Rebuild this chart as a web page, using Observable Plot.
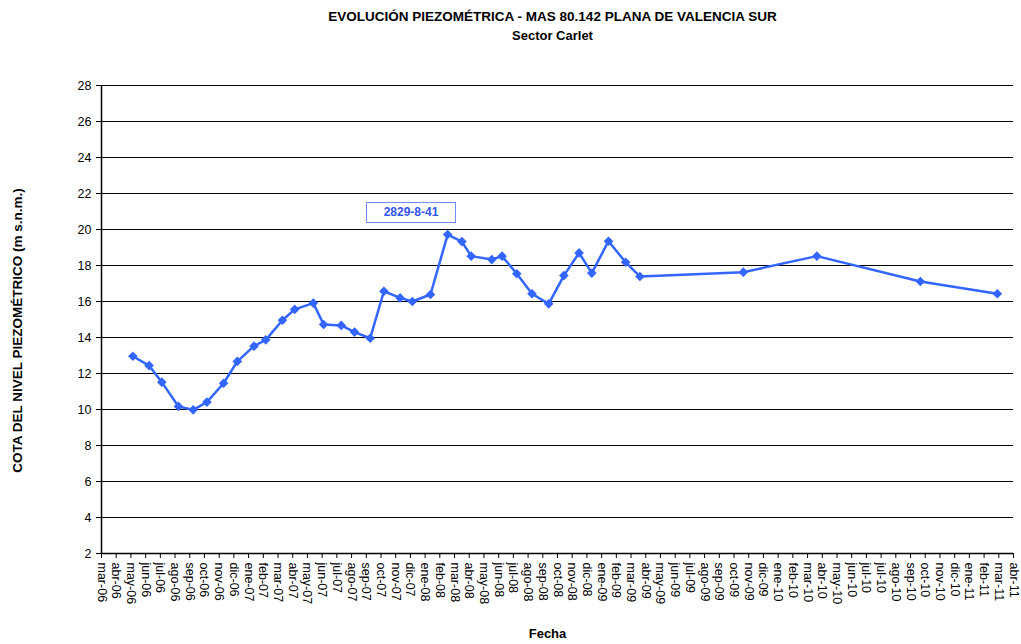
<!DOCTYPE html>
<html><head><meta charset="utf-8">
<script src="https://cdn.jsdelivr.net/npm/d3@7"></script>
<script src="https://cdn.jsdelivr.net/npm/@observablehq/plot@0.6"></script>
<style>
body{margin:0;background:#fff;font-family:Arial,"Liberation Sans",sans-serif;}
#wrap{position:relative;width:1021px;height:644px;overflow:hidden;}
.t{position:absolute;left:0;width:1105px;text-align:center;font-weight:bold;color:#000;white-space:nowrap;}
#chart{position:absolute;left:0;top:50px;}
#note{position:absolute;left:366px;top:202px;width:88px;height:19px;border:1.5px solid #6f8cff;box-sizing:content-box;
 font-weight:bold;font-size:12px;color:#3355ee;text-align:center;line-height:19px;background:#fff;}
</style>
</head><body>
<div id="wrap">
 <div class="t" style="top:9px;font-size:13.5px">EVOLUCIÓN PIEZOMÉTRICA - MAS 80.142 PLANA DE VALENCIA SUR</div>
 <div class="t" style="top:28px;font-size:13px">Sector Carlet</div>
 <div id="chart"></div>
 <div id="note">2829-8-41</div>
</div>
<script>
const measureDates = [
 "2006-05-27","2006-06-29","2006-07-25","2006-08-28","2006-09-27","2006-10-25","2006-11-28","2006-12-26",
 "2007-01-29","2007-02-22","2007-03-28","2007-04-22","2007-05-30","2007-06-20","2007-07-26","2007-08-22",
 "2007-09-23","2007-10-21","2007-11-23","2007-12-18","2008-01-24","2008-02-28","2008-03-28","2008-04-16",
 "2008-05-28","2008-06-18","2008-07-18","2008-08-18","2008-09-21","2008-10-22","2008-11-22","2008-12-18",
 "2009-01-21","2009-02-25","2009-03-26","2009-10-23","2010-03-22","2010-10-19","2011-03-25"
];
const levels = [
 12.96,12.44,11.52,10.17,9.98,10.41,11.46,12.67,
 13.52,13.87,14.96,15.56,15.91,14.72,14.67,14.30,
 13.96,16.57,16.20,16.00,16.39,19.72,19.33,18.52,
 18.33,18.52,17.54,16.43,15.87,17.44,18.70,17.58,
 19.35,18.18,17.39,17.63,18.52,17.11,16.43
];
const xTickLabels = [
 "mar-06","abr-06","may-06","jun-06","jul-06","ago-06","sep-06","oct-06","nov-06","dic-06",
 "ene-07","feb-07","mar-07","abr-07","may-07","jun-07","jul-07","ago-07","sep-07","oct-07","nov-07","dic-07",
 "ene-08","feb-08","mar-08","abr-08","may-08","jun-08","jul-08","ago-08","sep-08","oct-08","nov-08","dic-08",
 "ene-09","feb-09","mar-09","abr-09","may-09","jun-09","jul-09","ago-09","sep-09","oct-09","nov-09","dic-09",
 "ene-10","feb-10","mar-10","abr-10","may-10","jun-10","jul-10","jul-10","ago-10","sep-10","oct-10","nov-10","dic-10",
 "ene-11","feb-11","mar-11","abr-11"
];
const yTicks = [2,4,6,8,10,12,14,16,18,20,22,24,26,28];
const axisStartISO = "2006-03-24";
const tickStepDays = 30;
const yLabel = "COTA DEL NIVEL PIEZOMÉTRICO (m s.n.m.)";
const xLabel = "Fecha";

const data = measureDates.map((d, i) => ({date: new Date(d + "T00:00:00Z"), level: levels[i]}));
const axisStart = new Date(axisStartISO + "T00:00:00Z");
const tickDates = xTickLabels.map((_, k) => d3.utcDay.offset(axisStart, tickStepDays * k));
const labelByTime = new Map(tickDates.map((d, k) => [+d, xTickLabels[k]]));
const axisEnd = tickDates[tickDates.length - 1];
const blue = "#3366ff";

const chart = Plot.plot({
  width: 1021, height: 594,
  marginTop: 35, marginBottom: 91, marginLeft: 101, marginRight: 8,
  style: {fontFamily: "Arial, 'Liberation Sans', sans-serif", fontSize: "12px", color: "#000", background: "#fff", overflow: "visible"},
  x: {type: "utc", domain: [axisStart, axisEnd]},
  y: {domain: [yTicks[0], yTicks[yTicks.length - 1]]},
  marks: [
    Plot.ruleY(yTicks.slice(1), {stroke: "#000", strokeWidth: 1}),
    Plot.ruleY([yTicks[0]], {stroke: "#000", strokeWidth: 1.5}),
    Plot.ruleX([axisStart], {stroke: "#000", strokeWidth: 1.5}),
    Plot.axisY({ticks: yTicks, tickSize: 5, tickPadding: 5, label: null, tickFormat: d => String(d), stroke: "#000", fontSize: 12.5}),
    Plot.axisX({ticks: tickDates, tickFormat: d => labelByTime.get(+d), tickRotate: 90, tickSize: 5, tickPadding: 4, label: null, stroke: "#000", fontSize: 12.5}),
    Plot.line(data, {x: "date", y: "level", stroke: blue, strokeWidth: 2.5}),
    Plot.dot(data, {x: "date", y: "level", symbol: "square", r: 3, fill: blue, stroke: blue, rotate: 45}),
    Plot.text([yLabel], {text: d => d, frameAnchor: "left", textAnchor: "middle", rotate: -90, dx: -84, dy: 11, fontWeight: "bold", fontSize: 13.5}),
    Plot.text([xLabel], {text: d => d, frameAnchor: "bottom", textAnchor: "middle", dx: -10, dy: 84, fontWeight: "bold", fontSize: 13})
  ]
});
document.getElementById("chart").append(chart);
</script>
</body></html>
